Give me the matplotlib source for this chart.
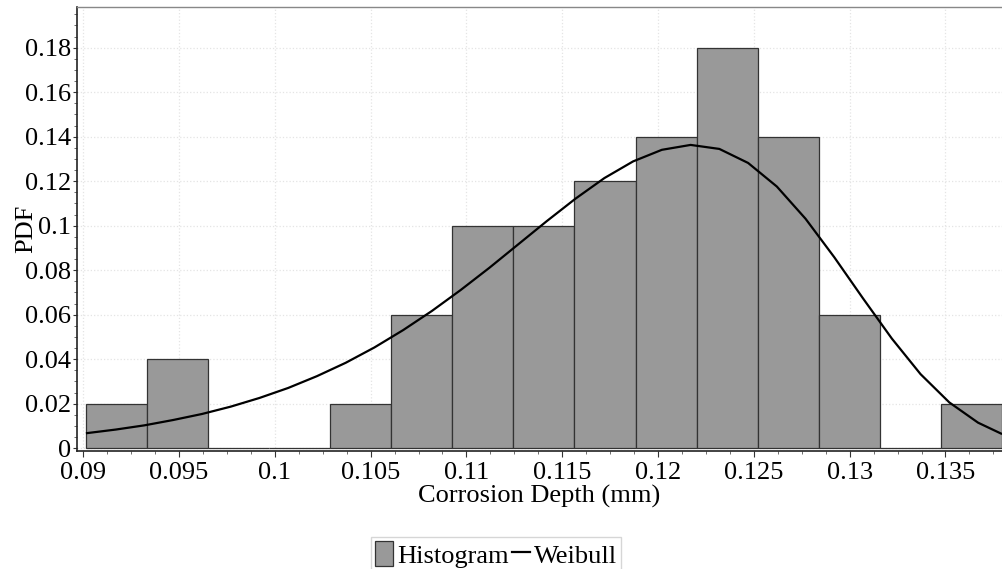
import matplotlib
matplotlib.use("Agg")
import matplotlib.pyplot as plt
from matplotlib.ticker import MultipleLocator, FormatStrFormatter
import numpy as np

# histogram bins (mm) and relative frequency
bin_edges = [0.09014, 0.09333, 0.09651, 0.09970, 0.10289, 0.10608, 0.10926, 0.11245,
             0.11564, 0.11883, 0.12201, 0.12520, 0.12839, 0.13158, 0.13476, 0.13795]
freq = [0.02, 0.04, 0.0, 0.0, 0.02, 0.06, 0.10, 0.10, 0.12, 0.14, 0.18, 0.14, 0.06, 0.0, 0.02]

# fitted Weibull curve
curve_x = [0.0902, 0.0917, 0.0932, 0.0947, 0.0962, 0.0977, 0.0992, 0.1007, 0.1022, 0.1037,
           0.1052, 0.1067, 0.1082, 0.1097, 0.1112, 0.1127, 0.1142, 0.1157, 0.1172, 0.1187,
           0.1202, 0.1217, 0.1232, 0.1247, 0.1262, 0.1277, 0.1292, 0.1307, 0.1322, 0.1337,
           0.1352, 0.1367, 0.1379]
curve_y = [0.0068, 0.0084, 0.0103, 0.0127, 0.0154, 0.0187, 0.0226, 0.0271, 0.0324, 0.0384,
           0.0453, 0.0531, 0.0617, 0.0711, 0.0811, 0.0916, 0.1021, 0.1122, 0.1214, 0.1289,
           0.1341, 0.1363, 0.1345, 0.1282, 0.1176, 0.1031, 0.0858, 0.0673, 0.0493, 0.0333,
           0.0206, 0.0115, 0.0066]

plt.rcParams['font.family'] = ['Liberation Serif', 'DejaVu Serif']
FS = 19

fig = plt.figure(figsize=(10.02, 5.69), dpi=100)
ax = fig.add_axes([0.0765, 0.2079, 0.9235, 0.7803])

edges = np.array(bin_edges)
bars = ax.bar(edges[:-1], freq, width=np.diff(edges), align='edge',
              facecolor='#999999', edgecolor='#333333', linewidth=0.9, zorder=2)
line, = ax.plot(curve_x, curve_y, color='black', linewidth=1.6, zorder=3)

ax.set_xlim(0.08966, 0.13795)
ax.set_ylim(-0.0011, 0.1984)

ax.xaxis.set_major_locator(MultipleLocator(0.005))
ax.xaxis.set_minor_locator(MultipleLocator(0.00125))
ax.yaxis.set_major_locator(MultipleLocator(0.02))
ax.yaxis.set_minor_locator(MultipleLocator(0.005))
ax.xaxis.set_major_formatter(FormatStrFormatter('%g'))
ax.yaxis.set_major_formatter(FormatStrFormatter('%g'))

ax.tick_params(axis='both', which='major', labelsize=FS, length=4, width=0.8,
               direction='out', pad=4, color='#333333')
ax.tick_params(axis='y', which='major', length=3, pad=1)
ax.tick_params(axis='both', which='minor', length=2.5, width=0.6, color='#555555')

ax.grid(True, which='major', color='#e4e4e4', linestyle=':', linewidth=0.9, zorder=0)
ax.set_axisbelow(True)

ax.spines['right'].set_visible(False)
ax.spines['top'].set_color('#888888')
ax.spines['top'].set_linewidth(1.0)
for s in ('left', 'bottom'):
    ax.spines[s].set_color('#222222')
    ax.spines[s].set_linewidth(1.2)

ax.set_xlabel('Corrosion Depth (mm)', fontsize=FS, labelpad=1)
ax.set_ylabel('PDF', fontsize=FS)
ax.yaxis.set_label_coords(-0.043, 0.5)

leg = fig.legend([bars, line], ['Histogram', 'Weibull'],
                 loc='upper left', bbox_to_anchor=(371 / 1002, 1 - 537 / 569),
                 ncol=2, fontsize=FS, frameon=True, fancybox=False,
                 handlelength=0.7, handleheight=1.1, handletextpad=0.15,
                 columnspacing=0.1, borderpad=0.15, borderaxespad=0)
leg.get_frame().set_edgecolor('#cccccc')
leg.get_frame().set_linewidth(1.0)

fig.savefig('out.png', dpi=100)
